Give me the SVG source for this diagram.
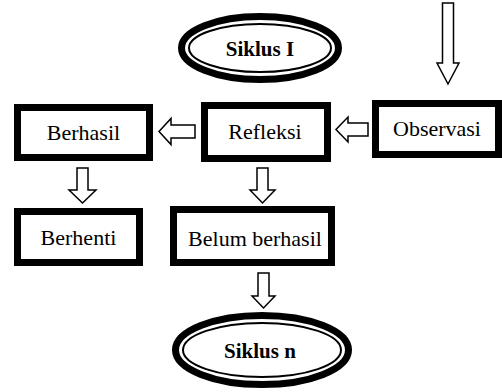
<svg xmlns="http://www.w3.org/2000/svg" width="502" height="392" viewBox="0 0 502 392">
<style>
.box{fill:#fff;stroke:#000;stroke-width:7}
.lbl{font-family:"Liberation Serif","Times New Roman",serif;font-size:22px;fill:#000;text-anchor:middle}
.b{font-weight:bold;font-size:21px}
.arr{fill:#fff;stroke:#000;stroke-width:1.5;stroke-linejoin:miter}
.ring{fill:#fff;stroke:#000;stroke-width:7}
.thin{fill:none;stroke:#000;stroke-width:2}
</style>
<rect width="502" height="392" fill="#fff"/>
<g id="connectors">
<polygon class="arr" points="442.5,3 453.5,3 453.5,63 459,63 448,84 437,63 442.5,63"/>
<polygon class="arr" points="195,125 171,125 171,118.5 159,131.5 171,144.5 171,138 195,138"/>
<polygon class="arr" points="368,123 348,123 348,117 336,129.5 348,142 348,136 368,136"/>
<polygon class="arr" points="77,168 88,168 88,190 96,190 82.5,203 69,190 77,190"/>
<polygon class="arr" points="257,168 268,168 268,190 275,190 262.5,203 250,190 257,190"/>
<polygon class="arr" points="258,273 269,273 269,296 275,296 263.5,308 252,296 258,296"/>
</g>
<g id="siklus1">
<ellipse class="ring" cx="260" cy="48" rx="78.5" ry="31.5"/>
<ellipse class="thin" cx="260" cy="48" rx="71" ry="24"/>
<text class="lbl b" x="260" y="56">Siklus I</text>
</g>
<g id="berhasil">
<rect class="box" x="17.5" y="107.5" width="132" height="50"/>
<text class="lbl" x="83.5" y="140">Berhasil</text>
</g>
<g id="refleksi">
<rect class="box" x="204.5" y="105.5" width="123" height="53"/>
<text class="lbl" x="265" y="139">Refleksi</text>
</g>
<g id="observasi">
<rect class="box" x="375.5" y="103.5" width="123" height="51"/>
<text class="lbl" x="437" y="136">Observasi</text>
</g>
<g id="berhenti">
<rect class="box" x="17.5" y="211.5" width="122" height="51"/>
<text class="lbl" x="78.5" y="245">Berhenti</text>
</g>
<g id="belum">
<rect class="box" x="173.5" y="209.5" width="158" height="53"/>
<text class="lbl" x="255" y="246">Belum berhasil</text>
</g>
<g id="siklusn">
<ellipse class="ring" cx="262" cy="350" rx="86.5" ry="34.5"/>
<ellipse class="thin" cx="262" cy="350" rx="79" ry="27"/>
<text class="lbl b" x="260" y="358">Siklus n</text>
</g>
</svg>
